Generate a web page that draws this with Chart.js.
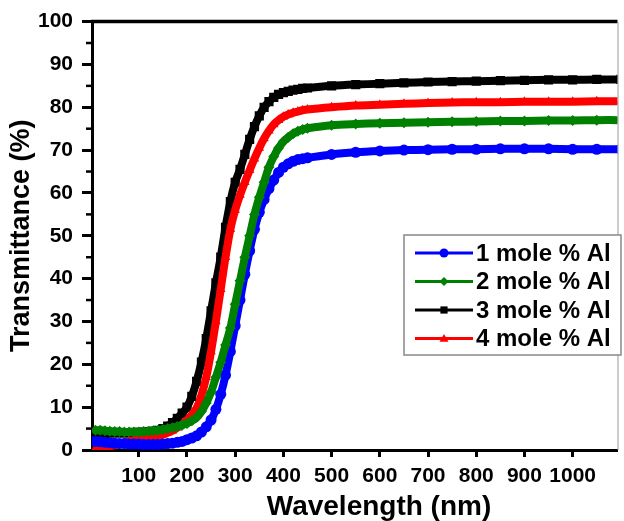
<!DOCTYPE html>
<html>
<head>
<meta charset="utf-8">
<script src="https://cdn.jsdelivr.net/npm/chart.js@4.4.1/dist/chart.umd.min.js"></script>
<style>
  body { margin: 0; background: #fff; }
  #wrap { width: 624px; height: 521px; }
</style>
</head>
<body>
<div id="wrap"><canvas id="myChart" width="624" height="521"></canvas></div>
<script>
// wavelength (nm)
const wavelength = [
  10, 20, 30, 40, 50, 60, 70, 80, 90, 100,
  110, 120, 130, 140, 150, 160, 170, 180, 190, 200,
  210, 220, 230, 240, 250, 260, 270, 280, 290, 300,
  310, 320, 330, 340, 350, 360, 370, 380, 390, 400,
  410, 420, 430, 440, 450,
  500, 550, 600, 650, 700, 750, 800, 850, 900, 950, 1000, 1050, 1100
];

// transmittance (%)
const al1 = [
  2.0, 1.9, 1.8, 1.7, 1.6, 1.5, 1.5, 1.4, 1.4, 1.4,
  1.3, 1.3, 1.3, 1.3, 1.4, 1.5, 1.6, 1.8, 2.0, 2.4,
  2.8, 3.3, 4.2, 5.4, 7.0, 9.5, 13.0, 17.5, 23.0, 29.0,
  35.0, 41.0, 46.5, 51.5, 55.5, 58.5, 61.0, 63.0, 64.8, 66.0,
  66.8, 67.4, 67.8, 68.0, 68.2,
  69.0, 69.5, 69.8, 70.0, 70.1, 70.2, 70.2, 70.3, 70.3, 70.3, 70.2, 70.2, 70.2
];
const al2 = [
  4.6, 4.6, 4.5, 4.4, 4.3, 4.3, 4.2, 4.2, 4.2, 4.2,
  4.3, 4.4, 4.5, 4.6, 4.8, 5.0, 5.2, 5.5, 5.8, 6.2,
  6.8, 7.6, 9.0, 11.0, 13.5, 17.0, 20.5, 24.5, 28.5, 34.0,
  39.5, 45.0, 50.0, 55.0, 59.0, 62.5, 66.0, 68.5, 70.5, 72.0,
  73.0, 73.8, 74.4, 74.8, 75.1,
  75.8, 76.1, 76.3, 76.4, 76.5, 76.6, 76.7, 76.8, 76.8, 76.9, 76.9, 77.0, 77.0
];
const al3 = [
  3.9, 3.9, 3.9, 4.0, 4.0, 4.0, 4.0, 4.0, 4.1, 4.1,
  4.2, 4.3, 4.4, 4.6, 5.0, 5.6, 6.4, 7.4, 8.6, 10.0,
  12.5, 16.0, 20.5, 26.0, 32.5, 39.0, 45.0, 52.0, 58.0, 62.5,
  65.5, 69.0, 72.5, 75.5, 78.0, 80.0, 81.3, 82.3, 83.0, 83.4,
  83.7, 84.0, 84.2, 84.4, 84.5,
  85.0, 85.3, 85.5, 85.7, 85.9, 86.0, 86.1, 86.2, 86.3, 86.4, 86.4, 86.5, 86.5
];
const al4 = [
  0.4, 0.5, 0.7, 0.9, 1.1, 1.4, 1.7, 2.0, 2.3, 2.5,
  2.7, 2.9, 3.1, 3.3, 3.6, 4.0, 4.5, 5.2, 6.0, 7.0,
  8.2, 9.8, 12.8, 17.0, 23.0, 30.0, 37.5, 45.0, 51.5, 56.0,
  59.5, 62.5, 65.3, 68.0, 70.5, 72.7, 74.5, 76.0, 77.0, 77.8,
  78.3, 78.7, 79.0, 79.3, 79.5,
  80.0, 80.4, 80.6, 80.8, 81.0, 81.1, 81.2, 81.2, 81.3, 81.3, 81.3, 81.4, 81.4
];

const seriesNames = ["1 mole % Al", "2 mole % Al", "3 mole % Al", "4 mole % Al"];
const seriesColors = ["#0000ff", "#008000", "#000000", "#ff0000"];
const seriesMarkers = ["circle", "rectRot", "rect", "triangle"];
const seriesValues = [al1, al2, al3, al4];
// green drawn on top, black at the bottom
const drawOrder = [1, 0, 3, 2];

const xTicks = [100, 200, 300, 400, 500, 600, 700, 800, 900, 1000];

const FONT = "'Liberation Sans', Arial, sans-serif";

const drawMarker = (ctx, style, x, y, r) => {
  ctx.beginPath();
  if (style === "circle") {
    ctx.arc(x, y, r, 0, Math.PI * 2);
  } else if (style === "rectRot") {
    ctx.moveTo(x, y - r);
    ctx.lineTo(x + r, y);
    ctx.lineTo(x, y + r);
    ctx.lineTo(x - r, y);
  } else if (style === "rect") {
    ctx.rect(x - r * 0.8, y - r * 0.8, r * 1.6, r * 1.6);
  } else {
    ctx.moveTo(x, y - r);
    ctx.lineTo(x + r, y + r * 0.7);
    ctx.lineTo(x - r, y + r * 0.7);
  }
  ctx.closePath();
  ctx.fill();
};

// frame, minor ticks, x title and the boxed legend
const extras = {
  id: "extras",
  afterDraw(chart) {
    const ctx = chart.ctx;
    const area = chart.chartArea;
    const y = chart.scales.y;
    ctx.save();
    ctx.strokeStyle = "#000";
    ctx.lineWidth = 3.5;
    ctx.beginPath();
    ctx.moveTo(area.left - 1, area.top);
    ctx.lineTo(area.right, area.top);
    ctx.stroke();
    ctx.strokeStyle = "#999";
    ctx.lineWidth = 1;
    ctx.beginPath();
    ctx.moveTo(area.right + 0.5, area.top);
    ctx.lineTo(area.right + 0.5, area.bottom);
    ctx.stroke();

    ctx.strokeStyle = "#000";
    ctx.lineWidth = 2.5;
    for (let v = 5; v < 100; v += 10) {
      const py = y.getPixelForValue(v);
      ctx.beginPath();
      ctx.moveTo(area.left - 6, py);
      ctx.lineTo(area.left, py);
      ctx.stroke();
    }

    ctx.fillStyle = "#000";
    ctx.font = "bold 28px " + FONT;
    ctx.textAlign = "center";
    ctx.textBaseline = "middle";
    ctx.fillText("Wavelength (nm)", 379, 507);

    // legend
    const box = { left: 404, top: 235, right: 621, bottom: 355 };
    ctx.fillStyle = "#fff";
    ctx.fillRect(box.left, box.top, box.right - box.left, box.bottom - box.top);
    ctx.strokeStyle = "#888";
    ctx.lineWidth = 1.5;
    ctx.strokeRect(box.left, box.top, box.right - box.left, box.bottom - box.top);
    ctx.font = "bold 24px " + FONT;
    ctx.textAlign = "left";
    seriesNames.forEach((name, i) => {
      const ly = 253 + i * 28.5;
      ctx.strokeStyle = seriesColors[i];
      ctx.fillStyle = seriesColors[i];
      ctx.lineWidth = 3;
      ctx.beginPath();
      ctx.moveTo(415, ly);
      ctx.lineTo(473, ly);
      ctx.stroke();
      drawMarker(ctx, seriesMarkers[i], 444, ly, 4.5);
      ctx.fillStyle = "#000";
      ctx.fillText(name, 476, ly + 1);
    });
    ctx.restore();
  },
};

const datasets = seriesNames.map((name, i) => ({
  label: name,
  data: wavelength.map((w, k) => ({ x: w, y: seriesValues[i][k] })),
  borderColor: seriesColors[i],
  backgroundColor: seriesColors[i],
  borderWidth: 8,
  pointStyle: seriesMarkers[i],
  pointRadius: seriesMarkers[i] === "rect" ? 6.5 : 5.5,
  pointBorderWidth: 0,
  tension: 0.3,
  order: drawOrder[i],
}));

new Chart(document.getElementById("myChart").getContext("2d"), {
  type: "line",
  data: { datasets: datasets },
  plugins: [extras],
  options: {
    responsive: false,
    animation: false,
    devicePixelRatio: 1,
    layout: { padding: { left: 0, top: 21, right: 1, bottom: 0 } },
    plugins: {
      legend: { display: false },
      tooltip: { enabled: false },
    },
    scales: {
      x: {
        type: "linear",
        min: 3,
        max: 1093,
        afterFit: (scale) => { scale.height = 71; },
        afterBuildTicks: (scale) => {
          scale.ticks = xTicks.map((v) => ({ value: v }));
        },
        border: { color: "#000", width: 3 },
        grid: {
          drawOnChartArea: false,
          drawTicks: true,
          tickLength: 7,
          tickColor: "#000",
          tickWidth: 3,
        },
        ticks: {
          color: "#000",
          font: { family: FONT, size: 21, weight: "bold" },
          padding: 7,
          maxRotation: 0,
          autoSkip: false,
          callback: (v) => String(v),
        },
      },
      y: {
        min: 0,
        max: 100,
        afterFit: (scale) => { scale.width = 92; },
        border: { color: "#000", width: 3 },
        grid: {
          drawOnChartArea: false,
          drawTicks: true,
          tickLength: 10,
          tickColor: "#000",
          tickWidth: 3,
        },
        ticks: {
          stepSize: 10,
          color: "#000",
          font: { family: FONT, size: 21, weight: "bold" },
          padding: 9,
        },
        title: {
          display: true,
          text: "Transmittance (%)",
          color: "#000",
          font: { family: FONT, size: 27, weight: "bold", lineHeight: 1 },
          padding: { top: 8, bottom: 0 },
        },
      },
    },
  },
});
</script>
</body>
</html>
